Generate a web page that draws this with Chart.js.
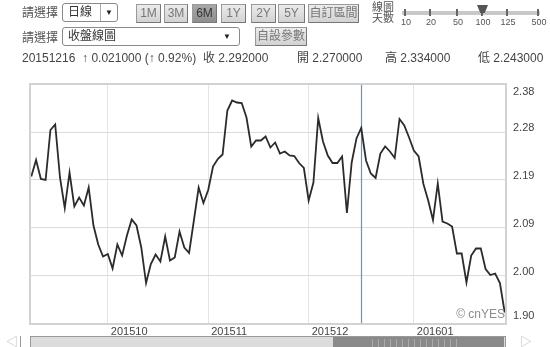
<!DOCTYPE html>
<html>
<head>
<meta charset="utf-8">
<script src="https://cdn.jsdelivr.net/npm/chart.js@4.4.1/dist/chart.umd.min.js"></script>
<style>
  body { margin: 0; width: 550px; height: 347px; overflow: hidden; background: #fff;
         font-family: "Liberation Sans", "Noto Sans CJK TC", sans-serif; color: #444; }
  #wrap { position: relative; width: 550px; height: 347px; }
  canvas { position: absolute; left: 0; top: 0; }
  .t { position: absolute; font-size: 12px; line-height: 14px; white-space: nowrap; }
  .sel { position: absolute; height: 19px; border: 1px solid #8a8a8a; border-radius: 3px;
         background: #fff; font-size: 12px; line-height: 19px; box-sizing: border-box; }
  .sel span { position: absolute; left: 5px; top: 0; line-height: 17px; color: #333; }
  .sel i { position: absolute; top: 0; font-style: normal; font-size: 8px; line-height: 17px; color: #222; }
  .btn { position: absolute; top: 4px; height: 19px; box-sizing: border-box; border: 1px solid #9a9a9a;
         border-right-color: #777; border-bottom-color: #777;
         background: linear-gradient(#ececec, #d2d2d2); font-size: 12px; line-height: 17px;
         text-align: center; color: #777; }
  .btn.on { background: linear-gradient(#a8a8a8, #8e8e8e); color: #333; }
  .tick { position: absolute; top: 9px; width: 2px; height: 7px; background: #666; }
  .tl { position: absolute; top: 17px; font-size: 9px; width: 24px; margin-left: -11px; text-align: center; color: #555; }
</style>
</head>
<body>
<div id="wrap">
  <canvas id="chart" width="550" height="347"></canvas>

  <div class="t" style="left:22px;top:6px;color:#555">請選擇</div>
  <div class="sel" style="left:62px;top:3px;width:56px"><span>日線</span>
    <b style="position:absolute;left:37px;top:0;width:1px;height:17px;background:#aaa"></b><i style="left:42px">▼</i></div>
  <div class="btn" style="left:136px;width:25px">1M</div>
  <div class="btn" style="left:164px;width:24px">3M</div>
  <div class="btn on" style="left:192px;width:25px">6M</div>
  <div class="btn" style="left:221px;width:25px">1Y</div>
  <div class="btn" style="left:251px;width:25px">2Y</div>
  <div class="btn" style="left:278px;width:27px">5Y</div>
  <div class="btn" style="left:308px;width:51px">自訂區間</div>

  <div class="t" style="left:372px;top:2px;font-size:11px;line-height:11px;color:#555">線圖<br>天數</div>
  <div style="position:absolute;left:402px;top:11px;width:138px;height:4px;background:#c8c8c8"></div>
  <div class="tick" style="left:404px"></div><div class="tl" style="left:405px">10</div>
  <div class="tick" style="left:429px"></div><div class="tl" style="left:430px">20</div>
  <div class="tick" style="left:456px"></div><div class="tl" style="left:457px">50</div>
  <div class="tick" style="left:481px"></div><div class="tl" style="left:482px">100</div>
  <div class="tick" style="left:506px"></div><div class="tl" style="left:507px">125</div>
  <div class="tick" style="left:537px"></div><div class="tl" style="left:538px">500</div>
  <div style="position:absolute;left:477px;top:5px;width:11px;height:8px;background:#555;
              clip-path:polygon(0 0,100% 0,70% 100%,30% 100%)"></div>

  <div class="t" style="left:22px;top:31px;color:#555">請選擇</div>
  <div class="sel" style="left:62px;top:27px;width:178px"><span>收盤線圖</span><i style="left:160px">▼</i></div>
  <div class="btn" style="left:255px;top:27px;width:52px">自設參數</div>

  <div class="t" style="left:22px;top:51px">20151216 &nbsp;↑ 0.021000 (↑ 0.92%)</div>
  <div class="t" style="left:203px;top:51px">收 2.292000</div>
  <div class="t" style="left:297px;top:51px">開 2.270000</div>
  <div class="t" style="left:385px;top:51px">高 2.334000</div>
  <div class="t" style="left:478px;top:51px">低 2.243000</div>

  <div class="t" style="left:6px;top:335px;font-size:12px;color:#bbb">◁</div>
  <div style="position:absolute;left:20px;top:336px;width:1px;height:11px;background:#999"></div>
  <div style="position:absolute;left:30px;top:336px;width:476px;height:12px;box-sizing:border-box;
              border:1px solid #999;background:#dcdcdc"></div>
  <div style="position:absolute;left:333px;top:337px;width:171px;height:11px;background:#8a8a8a"></div>
  <div style="position:absolute;left:372px;top:339px;width:90px;height:8px;
              background:repeating-linear-gradient(90deg,#aaa 0 1px,transparent 1px 6px)"></div>
  <div class="t" style="left:520px;top:335px;font-size:12px;color:#bbb">▷</div>
</div>

<script>
// 收盤價 per trading day
const closes = [
  2.195, 2.228, 2.190, 2.188, 2.288, 2.299, 2.193, 2.132, 2.203, 2.135,
  2.153, 2.137, 2.173, 2.097, 2.059, 2.035, 2.040, 2.011, 2.059, 2.037,
  2.077, 2.109, 2.097, 2.053, 1.982, 2.020, 2.039, 2.025, 2.075, 2.027,
  2.033, 2.085, 2.053, 2.042, 2.107, 2.173, 2.142, 2.168, 2.215, 2.230,
  2.239, 2.327, 2.347, 2.343, 2.342, 2.313, 2.255, 2.267, 2.267, 2.275,
  2.253, 2.263, 2.241, 2.245, 2.237, 2.236, 2.222, 2.212, 2.147, 2.183,
  2.312, 2.265, 2.237, 2.222, 2.222, 2.235, 2.122, 2.223, 2.271, 2.292,
  2.227, 2.201, 2.192, 2.241, 2.255, 2.245, 2.232, 2.310, 2.297, 2.273,
  2.247, 2.235, 2.180, 2.147, 2.108, 2.181, 2.105, 2.101, 2.095, 2.041,
  2.041, 1.983, 2.037, 2.051, 2.051, 2.010, 1.998, 2.001, 1.982, 1.923
];

// first trading day of each month (index into closes)
const monthTicks = [16, 37, 58, 80];
const monthLabels = ['201510', '201511', '201512', '201601'];

// horizontal grid lines, every other one labelled
const yGrid = [1.900, 1.948, 1.996, 2.044, 2.092, 2.140, 2.188, 2.236, 2.284, 2.332, 2.380];
const yLabels = ['1.90', '2.00', '2.09', '2.19', '2.28', '2.38'];

const selectedDay = 69; // 20151216

const frame = {
  id: 'frame',
  beforeDatasetsDraw(chart) {
    const {ctx, chartArea: a, scales: {x}} = chart;
    const px = Math.round(x.getPixelForValue(selectedDay)) + 0.5;
    ctx.save();
    ctx.strokeStyle = '#3fa3dc';
    ctx.lineWidth = 1.2;
    ctx.beginPath();
    ctx.moveTo(px, a.top);
    ctx.lineTo(px, a.bottom);
    ctx.stroke();
    ctx.restore();
  },
  afterDraw(chart) {
    const {ctx, chartArea: a} = chart;
    ctx.save();
    ctx.strokeStyle = '#d2d2d2';
    ctx.lineWidth = 2;
    ctx.strokeRect(a.left, a.top, a.right - a.left, a.bottom - a.top);
    ctx.fillStyle = '#8c8c8c';
    ctx.font = '12px "Liberation Sans", sans-serif';
    ctx.textAlign = 'right';
    ctx.textBaseline = 'alphabetic';
    ctx.fillText('© cnYES', a.right - 1, a.bottom - 6);
    ctx.restore();
  }
};

const tickFont = {family: '"Liberation Sans", sans-serif', size: 11};

new Chart(document.getElementById('chart'), {
  type: 'line',
  data: {
    datasets: [{
      data: closes.map((v, i) => ({x: i, y: v})),
      borderColor: '#2b2b2b',
      borderWidth: 1.8,
      pointRadius: 0,
      tension: 0,
      fill: false
    }]
  },
  options: {
    responsive: false,
    animation: false,
    events: [],
    layout: {padding: {left: 30, top: 84, right: 0, bottom: 0}},
    plugins: {legend: {display: false}, tooltip: {enabled: false}},
    scales: {
      x: {
        type: 'linear',
        min: -0.27,
        max: 99.27,
        afterBuildTicks: s => { s.ticks = monthTicks.map(v => ({value: v})); },
        afterFit: s => { s.height = 23; },
        ticks: {
          callback: (v, i) => monthLabels[i],
          align: 'start',
          labelOffset: 3,
          padding: 1,
          autoSkip: false,
          maxRotation: 0,
          color: '#444',
          font: tickFont
        },
        grid: {color: '#e4e4e4', drawTicks: false},
        border: {display: false}
      },
      y: {
        position: 'right',
        min: 1.90,
        max: 2.38,
        afterBuildTicks: s => { s.ticks = yGrid.map(v => ({value: v})); },
        afterFit: s => { s.width = 44; },
        ticks: {
          callback: (v, i) => {
            if (i % 2) return '';
            const t = yLabels[i / 2];
            if (i === 0) return [t, '', ''];
            if (i === yGrid.length - 1) return ['', '', t];
            return [t, ''];
          },
          padding: 7,
          color: '#444',
          font: {family: tickFont.family, size: 11, lineHeight: '8px'}
        },
        grid: {color: '#dcdcdc', drawTicks: false},
        border: {display: false}
      }
    }
  },
  plugins: [frame]
});
</script>
</body>
</html>
